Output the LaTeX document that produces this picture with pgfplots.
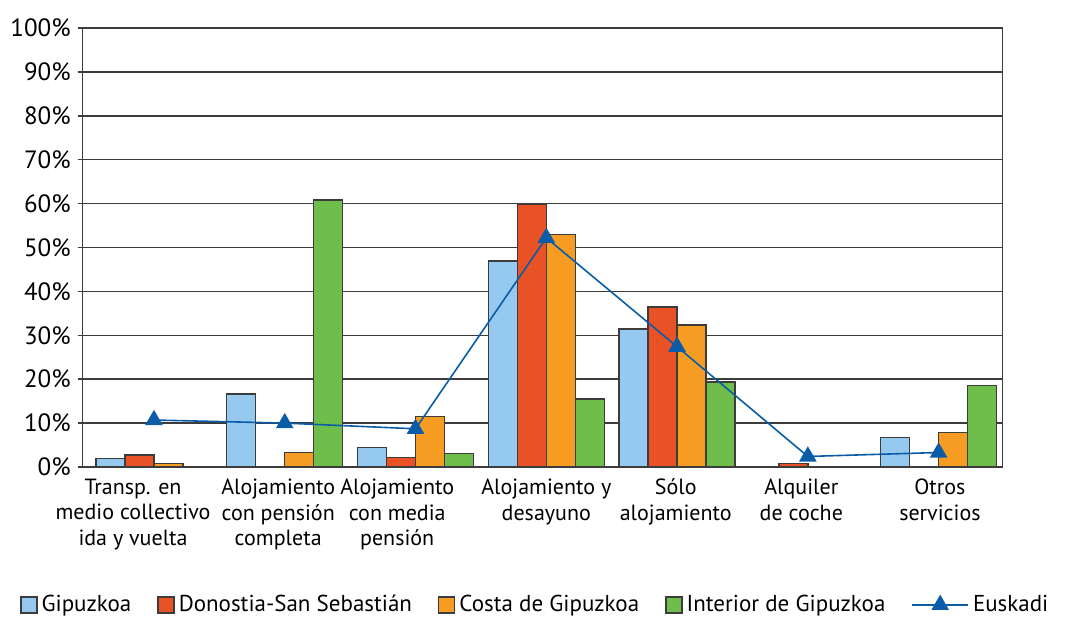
\documentclass[border=0pt]{standalone}
\usepackage{pgfplots}
\pgfplotsset{compat=1.18}
\usepackage{fontspec}
\setmainfont{PT Sans}
\definecolor{cgip}{HTML}{95C9EF}
\definecolor{cdon}{HTML}{E95224}
\definecolor{ccos}{HTML}{F69C22}
\definecolor{cint}{HTML}{6FBD4B}
\definecolor{ceus}{HTML}{0A5CA8}
\definecolor{cgrid}{HTML}{3C3C3C}
\pgfplotsset{
  barleg/.style={legend image code/.code={\draw[##1] (0pt,-4pt) rectangle (8pt,4pt);}},
  lineleg/.style={legend image code/.code={\draw[##1,mark repeat=2,mark phase=2] plot coordinates {(0pt,0pt) (14pt,0pt) (28pt,0pt)};}},
}
\begin{document}
\begin{tikzpicture}
\begin{axis}[
  name=ax,
  at={(0,0)}, anchor=south west,
  scale only axis, width=460pt, height=219.5pt,
  xmin=-0.545, xmax=6.49, ymin=0, ymax=100,
  axis line style={cgrid, line width=0.75pt},
  ytick={0,10,...,100},
  yticklabel={\pgfmathprintnumber{\tick}\%},
  /pgf/number format/assume math mode=true,
  ytick pos=left, tick align=outside, major tick length=2.5pt,
  tick style={cgrid, line width=0.75pt},
  ymajorgrids, grid style={cgrid, line width=0.75pt},
  yticklabel style={font=\fontsize{12.5}{12.5}\selectfont, text=black},
  xtick={-0.16,0.95,1.86,3,3.99,4.95,6.01},
  xticklabels={{Transp. en\\medio collectivo\\ida y vuelta},{Alojamiento\\con pensión\\completa},{Alojamiento\\con media\\pensión},{Alojamiento y\\desayuno},{Sólo\\alojamiento},{Alquiler\\de coche},{Otros\\servicios}},
  x tick style={draw=none},
  xticklabel style={font=\fontsize{11}{12.75}\selectfont, align=center, anchor=north, text=black},
  legend style={at={(0.493,-0.314)}, anchor=center, draw=none, font=\fontsize{11.5}{12}\selectfont,
    legend columns=5, /tikz/every even column/.append style={column sep=11pt}},
  legend cell align=left,
]
\addplot[ybar, bar width=0.2217, bar shift=-0.3326, fill=cgip, draw=cgrid, line width=0.7pt, barleg]
  coordinates {(0,2.0) (1,16.6) (2,4.5) (3,46.9) (4,31.4) (6,6.7)};
\addlegendentry{Gipuzkoa}
\addplot[ybar, bar width=0.2217, bar shift=-0.1109, fill=cdon, draw=cgrid, line width=0.7pt, barleg]
  coordinates {(0,2.7) (2,2.2) (3,59.8) (4,36.4) (5,0.8)};
\addlegendentry{Donostia-San Sebastián}
\addplot[ybar, bar width=0.2217, bar shift=0.1109, fill=ccos, draw=cgrid, line width=0.7pt, barleg]
  coordinates {(0,0.75) (1,3.3) (2,11.5) (3,53.0) (4,32.3) (6,7.9)};
\addlegendentry{Costa de Gipuzkoa}
\addplot[ybar, bar width=0.2217, bar shift=0.3326, fill=cint, draw=cgrid, line width=0.7pt, barleg]
  coordinates {(1,60.8) (2,3.1) (3,15.5) (4,19.4) (6,18.5)};
\addlegendentry{Interior de Gipuzkoa}
\addplot[sharp plot, color=ceus, line width=0.8pt, mark=triangle*, mark size=4.3pt,
  mark options={fill=ceus, draw=ceus}, lineleg]
  coordinates {(0,10.7) (1,10.0) (2,8.7) (3,52.2) (4,27.4) (5,2.4) (6,3.3)};
\addlegendentry{Euskadi}
\end{axis}
\pgfresetboundingbox
\path (-41.35pt,-76pt) rectangle (491.65pt,233.5pt);
\end{tikzpicture}
\end{document}
